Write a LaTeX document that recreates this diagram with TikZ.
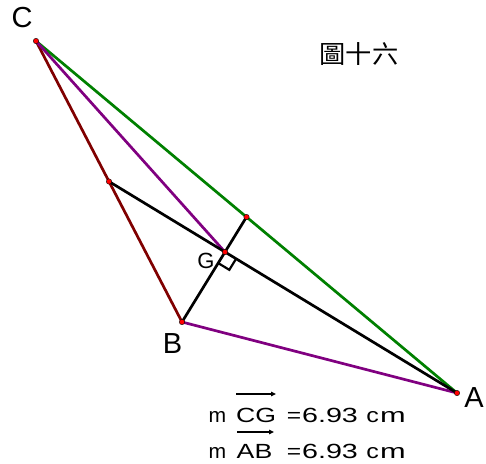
\documentclass[tikz,border=0pt]{standalone}
\usepackage{fontspec}
\usepackage{graphicx}
\setmainfont{Liberation Sans}
\newfontfamily\cjk{Noto Sans CJK TC}
\usetikzlibrary{calc,arrows.meta}
\begin{document}
\begin{tikzpicture}[x=1pt,y=-1pt,
  seg/.style={line width=2.7pt},
  greenseg/.style={seg,draw={rgb,255:red,0;green,128;blue,0}},
  redseg/.style={seg,draw={rgb,255:red,128;green,0;blue,0}},
  purpleseg/.style={seg,draw={rgb,255:red,128;green,0;blue,128}},
  blackseg/.style={seg,draw=black},
  dot/.style={fill=red,draw=black,line width=0.4pt},
  ptlabel/.style={inner sep=0pt,font=\fontsize{29}{31}\selectfont},
  glabel/.style={inner sep=0pt,font=\fontsize{22}{24}\selectfont},
  meas/.style={inner sep=0pt,anchor=base,font=\fontsize{20.5}{22}\selectfont},
  vecarrow/.style={line width=1.4pt,-{Triangle[length=5pt,width=4.5pt]}}
]
\useasboundingbox (0,0) rectangle (486,463);
\coordinate (C) at (36,41);
\coordinate (B) at (182,322);
\coordinate (A) at (457,393);
\coordinate (M) at ($(C)!0.5!(B)$);
\coordinate (P) at ($(C)!0.5!(A)$);
\coordinate (G) at ($(A)!2/3!(M)$);

\draw[greenseg] (C) -- (A);
\draw[redseg] (C) -- (B);
\draw[purpleseg] (B) -- (A);
\draw[purpleseg] (C) -- (G);
\draw[blackseg] (M) -- (A);
\draw[blackseg] (B) -- (P);

\coordinate (Gu) at ($(G)!13pt!(A)$);
\coordinate (Gv) at ($(G)!13pt!(B)$);
\draw[line width=2.2pt] (Gu) -- ($(Gu)+(Gv)-(G)$) -- (Gv);

\foreach \p in {C,B,A,M,P,G} \filldraw[dot] (\p) circle (2.7pt);

\node[ptlabel] (lc) at (22,17.5) {C};
\node[ptlabel] (lb) at (172.5,344) {B};
\node[ptlabel] (la) at (474,397.5) {A};
\node[glabel] (lg) at (206,260.5) {G};

\node[inner sep=0pt,font=\cjk\fontsize{25}{27}\selectfont] (title) at (359,54) {\scalebox{1.05}[1]{圖十六}};

% line 1
\node[meas] (m1a) at (217.5,422) {\scalebox{1.03}[1]{m}};
\node[meas] (cg) at (256,422) {\scalebox{1.3}[1]{CG}};
\node[meas] (eq1) at (294,422) {\scalebox{1.2}[1]{=}};
\node[meas] (v1) at (330,422) {\scalebox{1.4}[1]{6.93}};
\node[meas] (c1) at (372.5,422) {\scalebox{1.22}[1]{c}};
\node[meas] (m1b) at (393,422) {\scalebox{1.5}[1]{m}};
\coordinate (v1s) at (236,394);
\coordinate (v1e) at (276,394);
\draw[vecarrow] (v1s) -- (v1e);

% line 2
\node[meas] (m2a) at (217.5,458) {\scalebox{1.03}[1]{m}};
\node[meas] (ab) at (254.5,458) {\scalebox{1.3}[1]{AB}};
\node[meas] (eq2) at (294,458) {\scalebox{1.2}[1]{=}};
\node[meas] (v2) at (330,458) {\scalebox{1.4}[1]{6.93}};
\node[meas] (c2) at (372.5,458) {\scalebox{1.22}[1]{c}};
\node[meas] (m2b) at (393,458) {\scalebox{1.5}[1]{m}};
\coordinate (v2s) at (237,432);
\coordinate (v2e) at (274,432);
\draw[vecarrow] (v2s) -- (v2e);
\end{tikzpicture}
\end{document}
